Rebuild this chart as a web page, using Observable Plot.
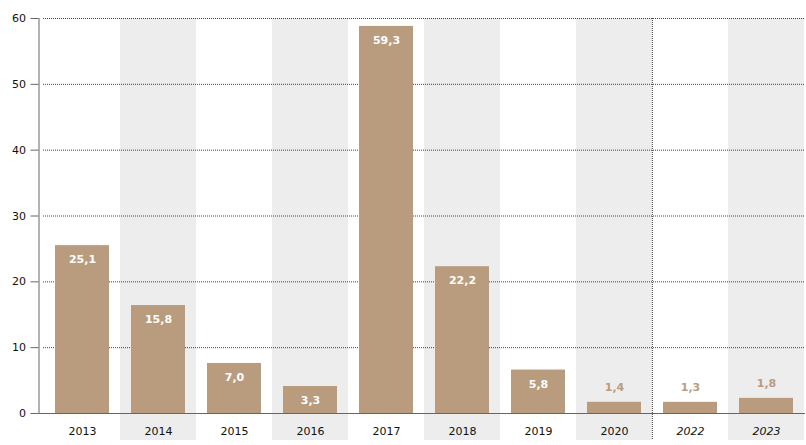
<!DOCTYPE html>
<html>
<head>
<meta charset="utf-8">
<script src="https://cdn.jsdelivr.net/npm/d3@7"></script>
<script src="https://cdn.jsdelivr.net/npm/@observablehq/plot@0.6"></script>
<style>
  html, body { margin: 0; padding: 0; background: #fff; }
  #chart svg { display: block; }
</style>
</head>
<body>
<div id="chart"></div>
<script>
// Categories (x axis)
const years = ["2013", "2014", "2015", "2016", "2017", "2018", "2019", "2020", "2022", "2023"];
// Bar heights as drawn in the picture
const values = [25.5, 16.4, 7.6, 4.1, 58.8, 22.3, 6.6, 1.7, 1.7, 2.3];
// Printed value labels
const valueLabels = ["25,1", "15,8", "7,0", "3,3", "59,3", "22,2", "5,8", "1,4", "1,3", "1,8"];
// Shaded background columns
const shadedYears = ["2014", "2016", "2018", "2020", "2023"];
// Years shown in italics (forecast)
const italicYears = ["2022", "2023"];
// Y tick values
const yTicks = [0, 10, 20, 30, 40, 50, 60];
// Where the separating dotted line is drawn (left edge of this category)
const splitYear = "2022";

const data = years.map((year, i) => ({year, value: values[i], label: valueLabels[i]}));
const normalYears = years.filter(y => !italicYears.includes(y));

const W = 806, H = 445;
const mLeft = 38.5, mRight = 1, mTop = 18, mBottom = 32, inset = 4.5;
const step = (W - mLeft - mRight - inset) / years.length;

const barColor = "#b99c7e";
const font = "DejaVu Sans, Verdana, sans-serif";

const chart = Plot.plot({
  width: W,
  height: H,
  marginLeft: mLeft,
  marginRight: mRight,
  marginTop: mTop,
  marginBottom: mBottom,
  style: {fontFamily: font, fontSize: "11px", color: "#111", background: "#fff"},
  x: {type: "band", domain: years, padding: 0, insetLeft: inset, label: null},
  y: {domain: [0, 60], label: null},
  marks: [
    Plot.cell(shadedYears, {x: d => d, fill: "#ededed", insetBottom: -27}),
    Plot.gridY(yTicks.filter(t => t > 0), {stroke: "#444", strokeOpacity: 1, strokeDasharray: "1,1", insetLeft: inset}),
    Plot.barY(data, {x: "year", y: "value", fill: barColor, insetLeft: 11, insetRight: 11}),
    Plot.ruleX([splitYear], {x: d => d, y1: 60, y2: 0, dx: -step / 2, insetBottom: -27, stroke: "#444", strokeDasharray: "1,1"}),
    Plot.text(data.filter(d => d.value > 3), {x: "year", y: "value", text: "label", dy: 14, fill: "#fff", fontWeight: "bold", fontSize: 11, letterSpacing: "0.5px"}),
    Plot.text(data.filter(d => d.value <= 3), {x: "year", y: "value", text: "label", dy: -15, fill: barColor, fontWeight: "bold", fontSize: 11, letterSpacing: "0.5px"}),
    Plot.ruleY([0], {stroke: "#666"}),
    Plot.frame({anchor: "left", stroke: "#666"}),
    Plot.axisY({ticks: yTicks, tickSize: 8, tickPadding: 5, stroke: "#666", fill: "#111", label: null}),
    Plot.axisX({ticks: normalYears, tickSize: 0, tickPadding: 14, fill: "#111", label: null}),
    Plot.axisX({ticks: italicYears, tickSize: 0, tickPadding: 14, fill: "#111", fontStyle: "italic", label: null})
  ]
});
document.getElementById("chart").appendChild(chart);
</script>
</body>
</html>
